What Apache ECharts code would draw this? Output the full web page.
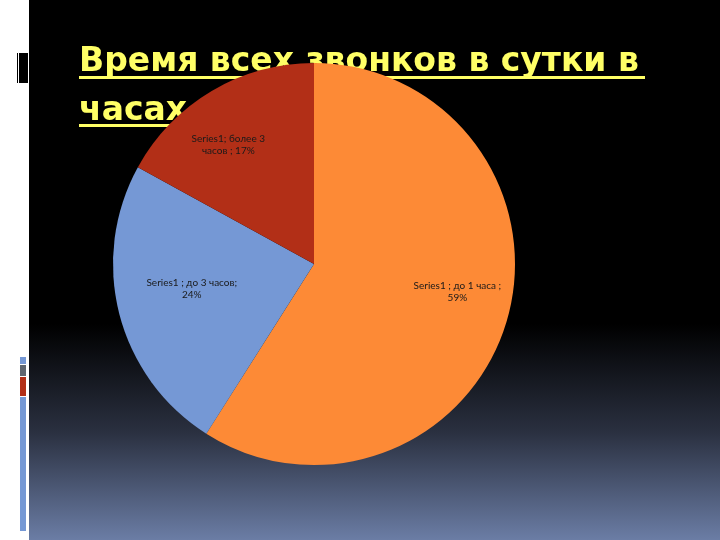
<!DOCTYPE html>
<html><head><meta charset="utf-8">
<script src="https://cdn.jsdelivr.net/npm/echarts@6/dist/echarts.min.js"></script>
<style>html,body{margin:0;padding:0;background:#fff}#c{width:720px;height:540px}</style>
</head><body><div id="c"></div>
<script>
const titleLines = ['Время всех звонков в сутки в', 'часах'];
const seriesName = 'Series1';
const categories = ['до 1 часа', 'до 3 часов', 'более 3 часов'];
const values = [59, 24, 17];
const sliceColors = ['#FD8A36', '#7598D5', '#B22F17'];
const labelOffsets = [[44, -1], [-22, -1], [-33, -30]];
const labelSeps = [' ; ', ' ; ', '; '];
const labelSeps2 = [' ; ', '; ', ' ; '];

function wrap(text, max) {
  const words = text.split(' ');
  const lines = []; let cur = '';
  for (const w of words) {
    const t = cur ? cur + ' ' + w : w;
    if (t.length > max && cur) { lines.push(cur); cur = w; } else cur = t;
  }
  if (cur) lines.push(cur);
  return lines.join('\n');
}

const chart = echarts.init(document.getElementById('c'), null, {renderer: 'canvas'});
const titleFont = '"DejaVu Sans", sans-serif';
chart.setOption({
  animation: false,
  graphic: [
    {type: 'rect', z: -10, shape: {x: 0, y: 0, width: 720, height: 540}, style: {fill: '#fff'}},
    {type: 'rect', z: -9, shape: {x: 29, y: 0, width: 691, height: 540},
      style: {fill: new echarts.graphic.LinearGradient(0, 0, 0, 1, [
        {offset: 0, color: '#000'}, {offset: 0.6, color: '#000'}, {offset: 0.8, color: '#2a3040'}, {offset: 1, color: '#6b7da5'}])}},
    {type: 'rect', z: -8, shape: {x: 17, y: 53, width: 1, height: 30}, style: {fill: '#000'}},
    {type: 'rect', z: -8, shape: {x: 19, y: 53, width: 9, height: 30}, style: {fill: '#000'}},
    {type: 'rect', z: -8, shape: {x: 20, y: 357, width: 6, height: 7}, style: {fill: '#7598D5'}},
    {type: 'rect', z: -8, shape: {x: 20, y: 365, width: 6, height: 11}, style: {fill: '#5f6670'}},
    {type: 'rect', z: -8, shape: {x: 20, y: 377, width: 6, height: 19}, style: {fill: '#B22F17'}},
    {type: 'rect', z: -8, shape: {x: 20, y: 397, width: 6, height: 134}, style: {fill: '#7598D5'}},
    {type: 'text', z: 0, left: 79, top: 46, style: {text: titleLines[0], fill: '#FFFF66', font: 'bold 33px ' + titleFont}},
    {type: 'rect', z: 0, shape: {x: 79, y: 76, width: 566, height: 3}, style: {fill: '#FFFF66'}},
    {type: 'text', z: 0, left: 79, top: 95, style: {text: titleLines[1], fill: '#FFFF66', font: 'bold 33px ' + titleFont}},
    {type: 'rect', z: 0, shape: {x: 79, y: 124, width: 110, height: 3}, style: {fill: '#FFFF66'}}
  ],
  series: [{
    type: 'pie',
    z: 5,
    center: [314, 264],
    radius: [0, 201],
    startAngle: 90,
    clockwise: true,
    avoidLabelOverlap: false,
    itemStyle: {borderWidth: 0},
    emphasis: {disabled: true},
    data: categories.map((c, i) => ({
      name: c, value: values[i],
      itemStyle: {color: sliceColors[i]},
      label: {
        show: true, position: 'inside', offset: labelOffsets[i],
        formatter: () => wrap(seriesName + labelSeps[i] + c + labelSeps2[i] + values[i] + '%', 21),
        color: '#1a1a1a', fontSize: 10, lineHeight: 12, fontFamily: 'Lato, sans-serif', align: 'center'
      }
    })),
    labelLine: {show: false}
  }]
});
</script></body></html>
